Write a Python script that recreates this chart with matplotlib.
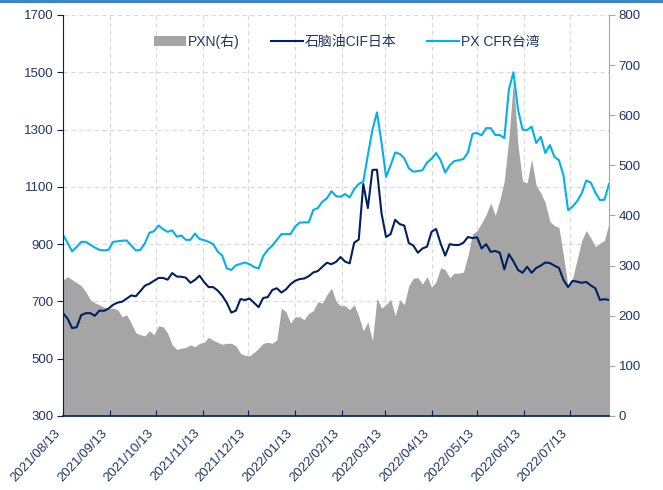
import numpy as np
import pandas as pd
import matplotlib
matplotlib.use('Agg')
import matplotlib.pyplot as plt
import matplotlib.dates as mdates
from matplotlib.patches import Patch, Rectangle
from matplotlib.lines import Line2D

plt.rcParams['font.family'] = ['Liberation Sans', 'Noto Sans CJK SC', 'DejaVu Sans']

# every 3 days, 2021/08/13 - 2022/08/08
dates = pd.date_range('2021-08-13', periods=121, freq='3D')

# PX CFR台湾 (left axis)
px_tw = [932, 905, 875, 890, 908, 908, 898, 888, 880, 878,
         880, 908, 910, 912, 913, 895, 878, 880, 903, 940,
         945, 965, 952, 943, 948, 926, 930, 915, 915, 937,
         918, 914, 908, 900, 874, 860, 815, 810, 826, 831,
         836, 830, 820, 815, 858, 880, 895, 915, 935, 935,
         935, 961, 975, 976, 976, 1019, 1026, 1048, 1060, 1085,
         1068, 1065, 1075, 1063, 1092, 1110, 1118, 1211, 1298, 1360,
         1255, 1135, 1175, 1220, 1215, 1200, 1165, 1153, 1155, 1158,
         1185, 1198, 1218, 1193, 1150, 1175, 1190, 1193, 1197, 1220,
         1285, 1288, 1280, 1305, 1305, 1281, 1281, 1270, 1440, 1500,
         1370, 1300, 1298, 1310, 1253, 1275, 1218, 1246, 1205, 1193,
         1140, 1019, 1031, 1050, 1077, 1122, 1115, 1080, 1054, 1055,
         1110]

# 石脑油CIF日本 (left axis)
naphtha = [659, 640, 607, 610, 652, 659, 659, 650, 668, 667,
           675, 688, 696, 699, 710, 721, 718, 736, 755, 762,
           772, 782, 782, 776, 799, 787, 786, 783, 765, 775,
           790, 768, 750, 750, 738, 720, 695, 661, 668, 708,
           705, 710, 695, 680, 712, 715, 740, 746, 731, 742,
           760, 772, 778, 780, 788, 801, 806, 821, 835, 830,
           838, 855, 839, 833, 905, 916, 1110, 1026, 1159, 1160,
           1008, 925, 935, 985, 970, 965, 904, 895, 870, 885,
           891, 943, 953, 902, 860, 900, 897, 897, 905, 925,
           921, 924, 885, 900, 873, 876, 870, 812, 865, 840,
           810, 800, 821, 800, 817, 825, 836, 834, 825, 817,
           775, 750, 772, 769, 765, 768, 756, 746, 705, 708,
           705]

# PXN (right axis)
pxn = [271, 278, 272, 266, 260, 248, 232, 226, 222, 217,
       215, 215, 212, 198, 202, 185, 166, 162, 160, 170,
       162, 180, 178, 165, 142, 133, 135, 137, 142, 138,
       145, 147, 157, 151, 147, 143, 145, 145, 140, 125,
       121, 120, 127, 135, 145, 147, 145, 152, 215, 208,
       185, 198, 198, 192, 205, 210, 228, 225, 242, 255,
       229, 220, 220, 212, 222, 199, 170, 188, 150, 235,
       215, 222, 233, 200, 232, 222, 260, 275, 276, 263,
       278, 257, 268, 296, 292, 276, 285, 285, 287, 320,
       363, 370, 385, 402, 425, 400, 430, 470, 555, 670,
       540, 468, 465, 512, 460, 445, 425, 388, 380, 376,
       320, 258, 275, 312, 350, 370, 355, 338, 345, 350,
       385]

labels = ['PXN(右)', '石脑油CIF日本', 'PX CFR台湾']
left_ticks = list(range(300, 1701, 200))
right_ticks = list(range(0, 801, 100))

navy = '#002060'
blue = '#00B0F0'
grey = '#A5A5A5'
txt = '#1F3864'

fig = plt.figure(figsize=(6.63, 4.90), dpi=100)
rect = [63 / 663, 1 - 416 / 490, (609 - 63) / 663, (416 - 15) / 490]

# background axis: only the dashed grid
ax_bg = fig.add_axes(rect)
ax_bg.set_ylim(300, 1700)
ax_bg.set_yticks(left_ticks)
ax_bg.grid(True, color='#D9D9D9', ls=(0, (4, 3)), lw=0.8)
ax_bg.tick_params(length=0, labelleft=False, labelbottom=False)
for s in ax_bg.spines.values():
    s.set_visible(False)

# PXN area on right axis
ax_fill = ax_bg.twinx()
ax_fill.fill_between(dates, pxn, 0, color=grey, lw=0)
ax_fill.set_ylim(0, 800)
ax_fill.set_yticks(right_ticks)
ax_fill.tick_params(axis='y', direction='out', length=4, color='#A6A6A6',
                    labelcolor=txt, labelsize=9.5, pad=3)
for k in ['left', 'top', 'bottom']:
    ax_fill.spines[k].set_visible(False)
ax_fill.spines['right'].set_color('#A6A6A6')

# lines on left axis
ax_line = ax_bg.twinx()
ax_line.plot(dates, naphtha, color=navy, lw=1.5)
ax_line.plot(dates, px_tw, color=blue, lw=1.5)
ax_line.set_ylim(300, 1700)
ax_line.yaxis.tick_left()
ax_line.set_yticks(left_ticks)
ax_line.tick_params(axis='y', direction='out', length=4, color=navy,
                    labelcolor=txt, labelsize=9.5, pad=3)
ax_line.xaxis.set_visible(True)
ax_line.xaxis.set_major_locator(mdates.MonthLocator(bymonthday=13))
ax_line.xaxis.set_major_formatter(mdates.DateFormatter('%Y/%m/%d'))
ax_line.tick_params(axis='x', direction='in', length=4, color=navy,
                    labelcolor=txt, labelsize=9.5, pad=8)
for lab in ax_line.get_xticklabels():
    lab.set_rotation(47)
    lab.set_ha('right')
ax_line.set_xlim(dates[0], dates[-1])
for k in ['top', 'right']:
    ax_line.spines[k].set_visible(False)
ax_line.spines['left'].set_color(navy)
ax_line.spines['bottom'].set_color(navy)
ax_line.spines['bottom'].set_linewidth(1.2)

handles = [Patch(facecolor=grey, edgecolor='none'),
           Line2D([], [], color=navy, lw=1.5),
           Line2D([], [], color=blue, lw=1.5)]
leg = ax_line.legend(handles, labels, loc='center', bbox_to_anchor=(0.52, 0.933),
                     ncol=3, frameon=False, fontsize=10, handlelength=2.3,
                     handletextpad=0.15, columnspacing=2.2)
for t in leg.get_texts():
    t.set_color(txt)

fig.add_artist(Rectangle((0, 1 - 3 / 490), 1, 3 / 490, transform=fig.transFigure,
                         color='#3A86C8', lw=0))

fig.savefig('out.png', dpi=100)
